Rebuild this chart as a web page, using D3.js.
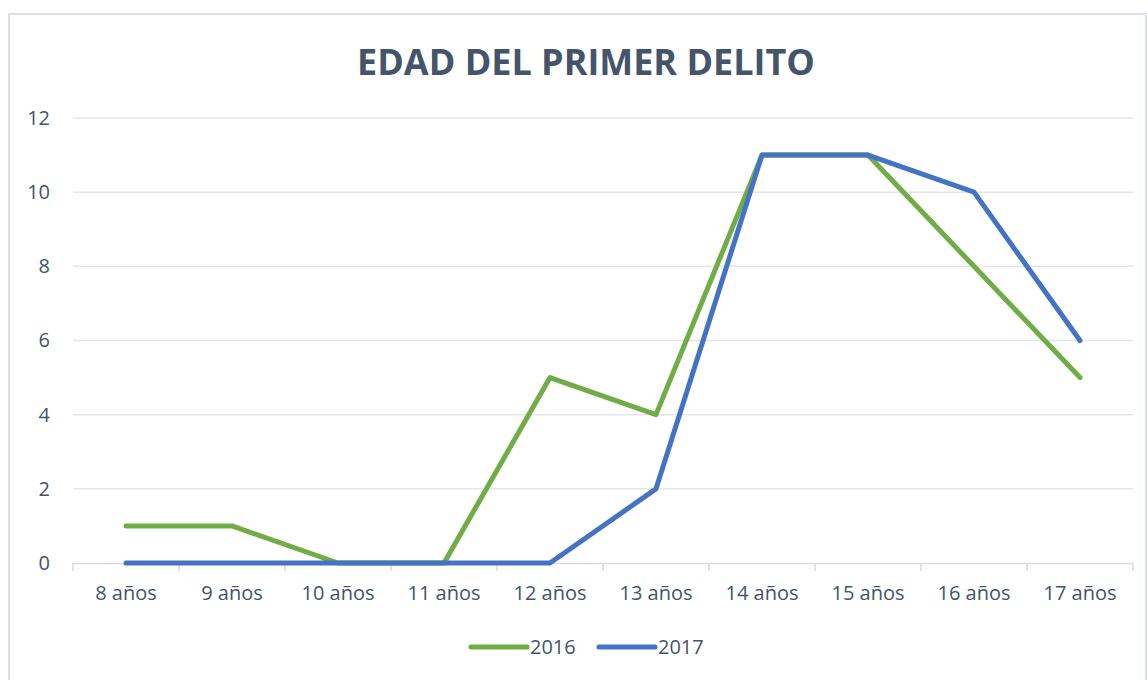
<!DOCTYPE html>
<html><head><meta charset="utf-8">
<script src="https://cdn.jsdelivr.net/npm/d3@7"></script>
<style>body{margin:0;background:#fff}svg{display:block}</style>
</head><body><svg id="c" width="1147" height="680"></svg>
<script>
const categories = ["8 años","9 años","10 años","11 años","12 años","13 años","14 años","15 años","16 años","17 años"];
const series2016 = [1,1,0,0,5,4,11,11,8,5];
const series2017 = [0,0,0,0,0,2,11,11,10,6];
const seriesNames = ["2016","2017"];
const yTicks = [0,2,4,6,8,10,12];
const title = "EDAD DEL PRIMER DELITO";

const svg = d3.select("#c");
const font = "'Open Sans', sans-serif";
const txt = "#44546a";
const colors = ["#70ad47","#4472c4"];

svg.append("rect").attr("x",9).attr("y",14).attr("width",1137).attr("height",700)
  .attr("fill","#fff").attr("stroke","#dde1e6").attr("stroke-width",2);

const x = d3.scaleBand().domain(categories).range([73,1133]);
const y = d3.scaleLinear().domain([0,12]).range([563,118]);

// gridlines
svg.append("g").selectAll("line").data(yTicks.filter(d=>d>0)).join("line")
  .attr("x1",73).attr("x2",1133).attr("y1",d=>y(d)).attr("y2",d=>y(d))
  .attr("stroke","#e3e6ea").attr("stroke-width",1.5);

// y axis labels
const ya = svg.append("g").attr("transform","translate(50,0)")
  .call(d3.axisLeft(y).tickValues(yTicks).tickSize(0).tickPadding(0));
ya.select(".domain").remove();
ya.selectAll("text").attr("font-family",font).attr("font-size",20).attr("fill",txt);

// x axis
const xa = svg.append("g").attr("transform","translate(0,563)")
  .call(d3.axisBottom(x).tickSize(0).tickPadding(23));
xa.select(".domain").attr("stroke","#d9dce1").attr("stroke-width",1.5);
xa.selectAll("text").attr("font-family",font).attr("font-size",20).attr("fill",txt);
xa.append("g").selectAll("line").data(categories.concat([null])).join("line")
  .attr("x1",(d,i)=>73+i*x.step()).attr("x2",(d,i)=>73+i*x.step())
  .attr("y1",0).attr("y2",8).attr("stroke","#d9dce1").attr("stroke-width",1.5);

// lines
const line = d3.line().x((d,i)=>x(categories[i])+x.bandwidth()/2).y(d=>y(d));
[series2016,series2017].forEach((s,k)=>{
  svg.append("path").datum(s).attr("d",line).attr("fill","none")
    .attr("stroke",colors[k]).attr("stroke-width",5)
    .attr("stroke-linecap","round").attr("stroke-linejoin","round");
});

// title
const t = svg.append("text").attr("x",586).attr("y",75).attr("text-anchor","middle")
  .attr("font-family",font).attr("font-weight","bold").attr("font-size",36)
  .attr("fill",txt).text(title);
const w = t.node().getComputedTextLength();
t.attr("font-size",36*458/w);

// legend
const legX = [471,599];
seriesNames.forEach((n,k)=>{
  svg.append("line").attr("x1",legX[k]).attr("x2",legX[k]+56).attr("y1",647).attr("y2",647)
    .attr("stroke",colors[k]).attr("stroke-width",5).attr("stroke-linecap","round");
  svg.append("text").attr("x",legX[k]+59).attr("y",647).attr("dy","0.35em")
    .attr("font-family",font).attr("font-size",20).attr("fill",txt).text(n);
});
</script></body></html>
